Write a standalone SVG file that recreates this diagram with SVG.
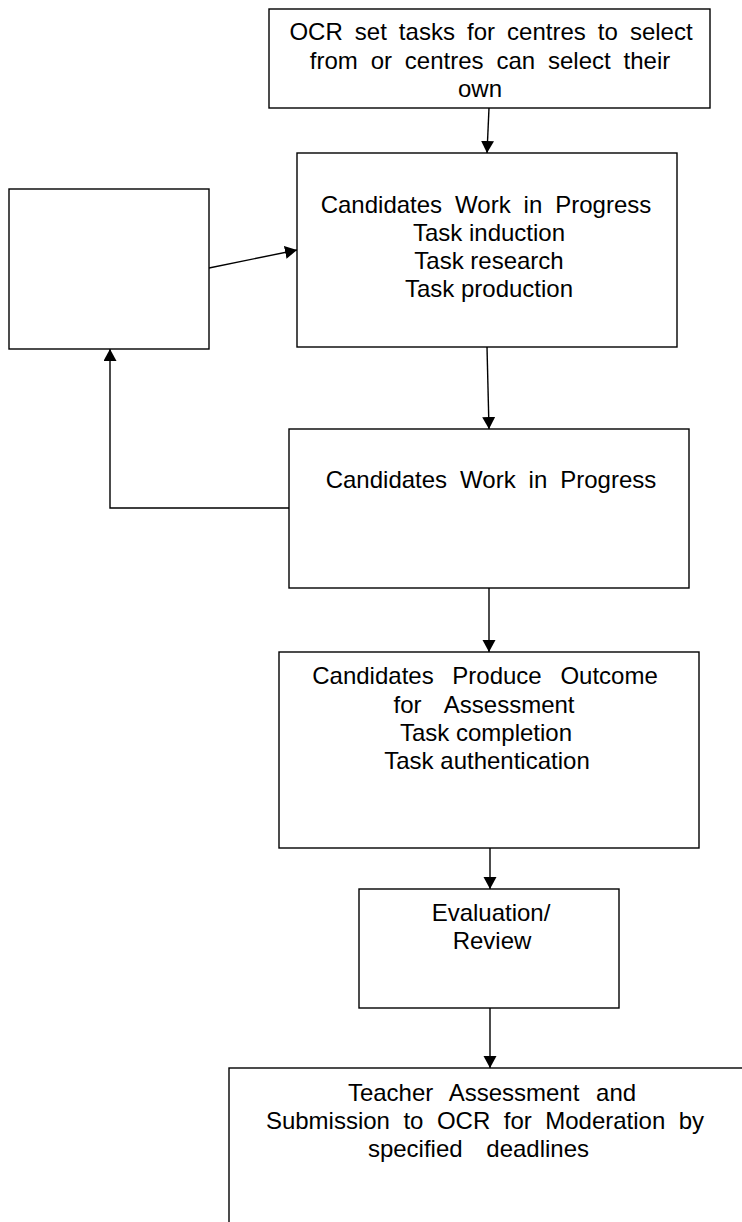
<svg xmlns="http://www.w3.org/2000/svg" width="742" height="1222" viewBox="0 0 742 1222">
<style>
.box{fill:#fff;stroke:#000;stroke-width:1.4}
.t{font-family:"Liberation Sans",Arial,sans-serif;font-size:24px;fill:#000;text-anchor:middle}
.c{fill:none;stroke:#000;stroke-width:1.4}
</style>
<defs>
<marker id="ah" markerUnits="userSpaceOnUse" markerWidth="13" markerHeight="14" refX="12" refY="6.5" orient="auto">
<path d="M0,0 L12,6.5 L0,13 z" fill="#000"/>
</marker>
</defs>
<rect width="742" height="1222" fill="#fff"/>
<g id="connectors">
<line class="c" x1="489" y1="108" x2="487" y2="153" marker-end="url(#ah)"/>
<line class="c" x1="209" y1="268" x2="297" y2="250" marker-end="url(#ah)"/>
<line class="c" x1="487" y1="347" x2="489" y2="429" marker-end="url(#ah)"/>
<polyline class="c" points="289,508 110,508 110,349" marker-end="url(#ah)"/>
<line class="c" x1="489" y1="588" x2="489" y2="652" marker-end="url(#ah)"/>
<line class="c" x1="490" y1="848" x2="490" y2="889" marker-end="url(#ah)"/>
<line class="c" x1="490" y1="1008" x2="490" y2="1068" marker-end="url(#ah)"/>
</g>
<g id="n1">
<rect class="box" x="269" y="9" width="441" height="99"/>
<text class="t"><tspan x="491" y="40" word-spacing="5.4">OCR set tasks for centres to select</tspan><tspan x="490" y="68.5" word-spacing="6.2">from or centres can select their</tspan><tspan x="480" y="97">own</tspan></text>
</g>
<g id="n2">
<rect class="box" x="9" y="189" width="200" height="160"/>
</g>
<g id="n3">
<rect class="box" x="297" y="153" width="380" height="194"/>
<text class="t"><tspan x="486" y="213" word-spacing="6.3">Candidates Work in Progress</tspan><tspan x="489" y="241">Task induction</tspan><tspan x="489" y="269">Task research</tspan><tspan x="489" y="297">Task production</tspan></text>
</g>
<g id="n4">
<rect class="box" x="289" y="429" width="400" height="159"/>
<text class="t" x="491" y="488" word-spacing="6.3">Candidates Work in Progress</text>
</g>
<g id="n5">
<rect class="box" x="279" y="652" width="420" height="196"/>
<text class="t"><tspan x="485" y="684" word-spacing="12">Candidates Produce Outcome</tspan><tspan x="484" y="712.5" word-spacing="17">for Assessment</tspan><tspan x="486" y="741">Task completion</tspan><tspan x="487" y="769">Task authentication</tspan></text>
</g>
<g id="n6">
<rect class="box" x="359" y="889" width="260" height="119"/>
<text class="t"><tspan x="491" y="921">Evaluation/</tspan><tspan x="492" y="949">Review</tspan></text>
</g>
<g id="n7">
<rect class="box" x="229" y="1068" width="600" height="300"/>
<text class="t"><tspan x="492" y="1101" word-spacing="10">Teacher Assessment and</tspan><tspan x="485" y="1129" word-spacing="6.8">Submission to OCR for Moderation by</tspan><tspan x="478.5" y="1157" word-spacing="17">specified deadlines</tspan></text>
</g>
</svg>
